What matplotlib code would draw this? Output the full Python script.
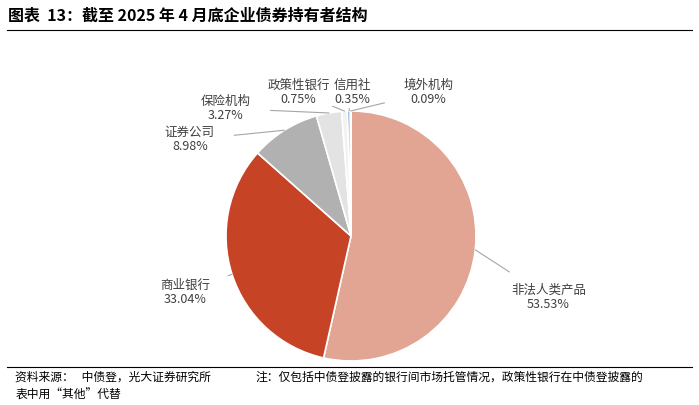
import numpy as np
import matplotlib.pyplot as plt

plt.rcParams['font.family'] = ['Noto Sans CJK SC', 'DejaVu Sans']

labels = ['非法人类产品', '商业银行', '证券公司', '保险机构', '政策性银行', '信用社', '境外机构']
values = [53.53, 33.04, 8.98, 3.27, 0.75, 0.35, 0.09]
colors = ['#e2a493', '#c64325', '#b1b1b1', '#e3e3e3', '#f2f2f2', '#4a8fcf', '#f7f7f7']
# label text positions (data units, pie radius = 1)
text_pos = [(1.58, -0.49), (-1.33, -0.45), (-1.29, 0.77), (-1.0, 1.02),
            (-0.42, 1.15), (0.01, 1.15), (0.62, 1.15)]

fig = plt.figure(figsize=(6.99, 4.05), dpi=100)
ax = fig.add_axes([0, 0, 1, 1])
ax.set_xlim(-351 / 125, (699 - 351) / 125)
ax.set_ylim(-169 / 125, 236 / 125)
ax.axis('off')

wedges, _ = ax.pie(values, colors=colors, startangle=90, counterclock=False,
                   radius=1, center=(0, 0), frame=True,
                   wedgeprops=dict(edgecolor='white', linewidth=1.2))
ax.set_xlim(-351 / 125, (699 - 351) / 125)
ax.set_ylim(-169 / 125, 236 / 125)
ax.set_aspect('auto')
ax.axis('off')

for w, lab, v, (tx, ty) in zip(wedges, labels, values, text_pos):
    ang = np.deg2rad((w.theta1 + w.theta2) / 2)
    x0, y0 = np.cos(ang), np.sin(ang)
    ax.annotate(f'{lab}\n{v:.2f}%', xy=(x0, y0), xytext=(tx, ty),
                ha='center', va='center', fontsize=9, color='#404040',
                linespacing=1.1,
                arrowprops=dict(arrowstyle='-', color='#a6a6a6', lw=0.8,
                                shrinkA=12, shrinkB=0))

fig.text(0.012, 0.962, '图表  13：截至 2025 年 4 月底企业债券持有者结构',
         fontsize=11.5, fontweight='bold', va='center', color='#000000')
fig.add_artist(plt.Line2D([0.01, 0.99], [0.927, 0.927], color='black', lw=0.8))
fig.add_artist(plt.Line2D([0.01, 0.99], [0.093, 0.093], color='black', lw=0.8))
fig.text(0.022, 0.068, '资料来源：   中债登，光大证券研究所', fontsize=8.5, va='center')
fig.text(0.365, 0.068, '注：仅包括中债登披露的银行间市场托管情况，政策性银行在中债登披露的',
         fontsize=8.5, va='center')
fig.text(0.022, 0.025, '表中用“其他”代替', fontsize=8.5, va='center')

fig.savefig('out.png', dpi=100)
